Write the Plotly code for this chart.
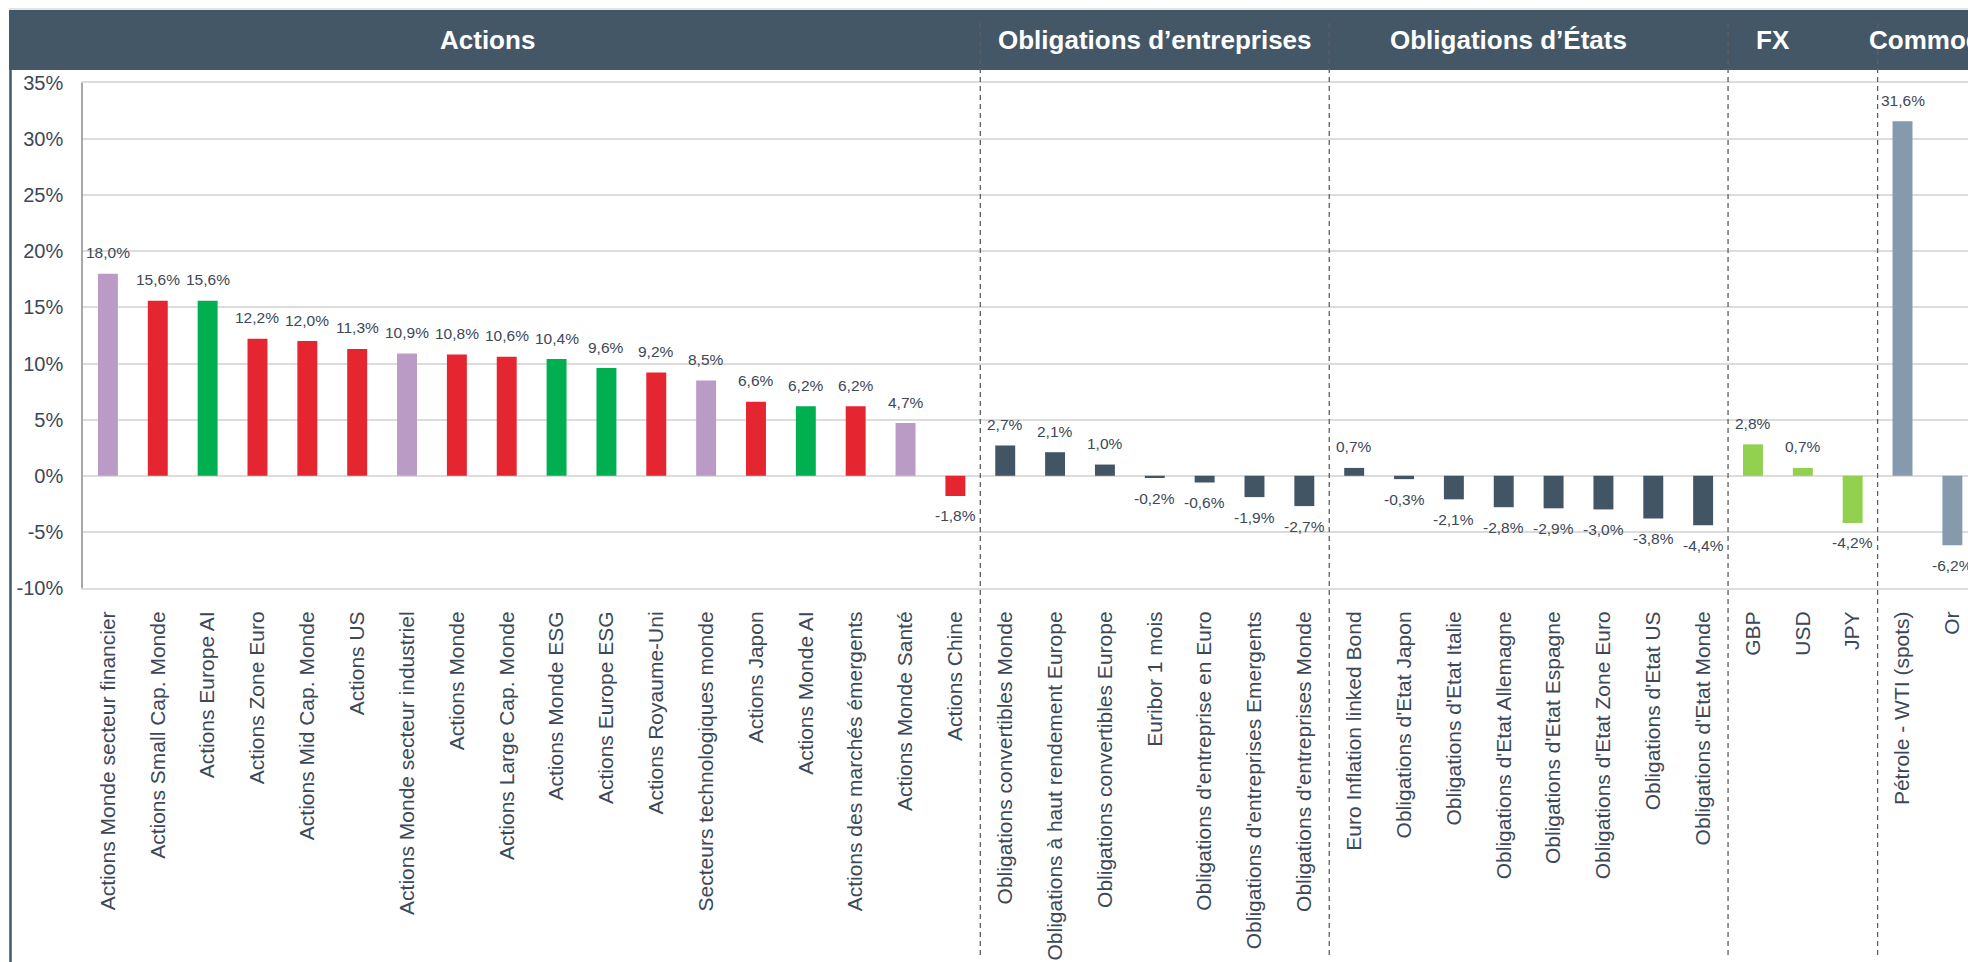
import plotly.graph_objects as go

# ---------------- data ----------------
actions_labels = [
    "Actions Monde secteur financier", "Actions Small Cap. Monde", "Actions Europe AI",
    "Actions Zone Euro", "Actions Mid Cap. Monde", "Actions US",
    "Actions Monde secteur industriel", "Actions Monde", "Actions Large Cap. Monde",
    "Actions Monde ESG", "Actions Europe ESG", "Actions Royaume-Uni",
    "Secteurs technologiques monde", "Actions Japon", "Actions Monde AI",
    "Actions des marchés émergents", "Actions Monde Santé", "Actions Chine",
]
actions_values = [18.0, 15.6, 15.6, 12.2, 12.0, 11.3, 10.9, 10.8, 10.6, 10.4,
                  9.6, 9.2, 8.5, 6.6, 6.2, 6.2, 4.7, -1.8]
actions_kind = ["secteur", "region", "esg", "region", "region", "region",
                "secteur", "region", "region", "esg", "esg", "region",
                "secteur", "region", "esg", "region", "secteur", "region"]

corp_labels = [
    "Obligations convertibles Monde", "Obligations à haut rendement Europe",
    "Obligations convertibles Europe", "Euribor 1 mois",
    "Obligations d'entreprise en Euro", "Obligations d'entreprises Emergents",
    "Obligations d'entreprises Monde",
]
corp_values = [2.7, 2.1, 1.0, -0.2, -0.6, -1.9, -2.7]

gov_labels = [
    "Euro Inflation linked Bond", "Obligations d'Etat Japon", "Obligations d'Etat Italie",
    "Obligations d'Etat Allemagne", "Obligations d'Etat Espagne",
    "Obligations d'Etat Zone Euro", "Obligations d'Etat US", "Obligations d'Etat Monde",
]
gov_values = [0.7, -0.3, -2.1, -2.8, -2.9, -3.0, -3.8, -4.4]

fx_labels = ["GBP", "USD", "JPY"]
fx_values = [2.8, 0.7, -4.2]

comm_labels = ["Pétrole - WTI (spots)", "Or"]
comm_values = [31.6, -6.2]

section_titles = ["Actions", "Obligations d’entreprises", "Obligations d’États", "FX", "Commodities"]

y_tick_values = [-10, -5, 0, 5, 10, 15, 20, 25, 30, 35]
y_tick_labels = ["-10%", "-5%", "0%", "5%", "10%", "15%", "20%", "25%", "30%", "35%"]

# ---------------- styles ----------------
W, H = 1968, 962
PL, PT, PB = 83, 83, 588          # plot area pixel bounds
HEADER = "#445767"
TXT = "#3c4858"
GRID = "#dcdcdc"
FONT = "Liberation Sans, Arial, sans-serif"
kind_colors = {"secteur": "#BA9BC6", "region": "#E52630", "esg": "#00AF50"}
corp_color = "#425565"
gov_color = "#425565"
fx_color = "#92D050"
comm_color = "#869AAE"


def fmt(v):
    return f"{v:.1f}".replace(".", ",") + "%"


def py(p):  # pixel y -> paper y
    return (PB - p) / (PB - PT)


def px(p):  # pixel x -> paper x
    return (p - PL) / (W - PL)


labels = actions_labels + corp_labels + gov_labels + fx_labels + comm_labels
values = actions_values + corp_values + gov_values + fx_values + comm_values
colors = ([kind_colors[k] for k in actions_kind] + [corp_color] * len(corp_values)
          + [gov_color] * len(gov_values) + [fx_color] * len(fx_values)
          + [comm_color] * len(comm_values))
group_sizes = [len(actions_values), len(corp_values), len(gov_values), len(fx_values), len(comm_values)]

fig = go.Figure(go.Bar(
    x=labels, y=values, marker=dict(color=colors, line=dict(width=0)),
    width=0.4, hoverinfo="skip",
))

annotations = []
for lab, v in zip(labels, values):
    annotations.append(dict(
        x=lab, y=v, xref="x", yref="y", text=fmt(v), showarrow=False,
        yshift=-20 if v < 0 else 21, yanchor="middle", xanchor="center",
        font=dict(family=FONT, size=15.5, color=TXT),
    ))

shapes = []
# top thin line
shapes.append(dict(type="line", xref="paper", yref="paper", x0=px(9), x1=1.0,
                   y0=py(9), y1=py(9), line=dict(color="#c8c8c8", width=1)))
# header band
shapes.append(dict(type="rect", xref="paper", yref="paper", x0=px(9), x1=1.0,
                   y0=py(70), y1=py(10), fillcolor=HEADER, line=dict(width=0), layer="above"))
# left border
shapes.append(dict(type="line", xref="paper", yref="paper", x0=px(10.5), x1=px(10.5),
                   y0=py(962), y1=py(10), line=dict(color=HEADER, width=2.5)))

# separators between groups
cum = 0
bounds = []
for s in group_sizes[:-1]:
    cum += s
    bounds.append(cum - 0.5)
for b in bounds:
    shapes.append(dict(type="line", xref="x", yref="paper", x0=b, x1=b,
                       y0=py(955), y1=py(20),
                       line=dict(color="#5f5f5f", width=1.3, dash="5px,4px")))

# section titles (x in category units)
title_pos = [(7.62, "center"), (21.0, "center"), (28.1, "center"), (33.4, "center"), (35.28, "left")]
for t, (xp, anc) in zip(section_titles, title_pos):
    annotations.append(dict(
        x=xp, y=py(40), xref="x", yref="paper", text=f"<b>{t}</b>", showarrow=False,
        xanchor=anc, yanchor="middle",
        font=dict(family=FONT, size=26, color="white"),
    ))

fig.update_layout(
    width=W, height=H,
    margin=dict(l=PL, r=0, t=PT, b=H - PB, pad=0),
    paper_bgcolor="white", plot_bgcolor="white",
    showlegend=False,
    bargap=0.6,
    shapes=shapes, annotations=annotations,
    font=dict(family=FONT, color=TXT),
)
fig.update_xaxes(
    type="category", range=[-0.5, (W - PL) / 49.85 - 0.5],
    showgrid=False, showline=True, mirror=True, linecolor=GRID, linewidth=2,
    zeroline=False, ticks="",
    tickangle=-90, tickfont=dict(family=FONT, size=21, color=TXT),
    ticklabelstandoff=13,
)
fig.update_yaxes(
    range=[-10, 35], tickvals=y_tick_values, ticktext=y_tick_labels,
    showgrid=True, gridcolor=GRID, gridwidth=2,
    zeroline=True, zerolinecolor=GRID, zerolinewidth=2,
    showline=True, linecolor="#a8a8a8", linewidth=1.5,
    ticks="", ticklabelstandoff=14,
    tickfont=dict(family=FONT, size=20, color=TXT),
)

fig.write_html(
    "out.html",
    config={"displayModeBar": False},
    post_script="document.body.style.margin='0';document.body.style.overflow='hidden';",
)
